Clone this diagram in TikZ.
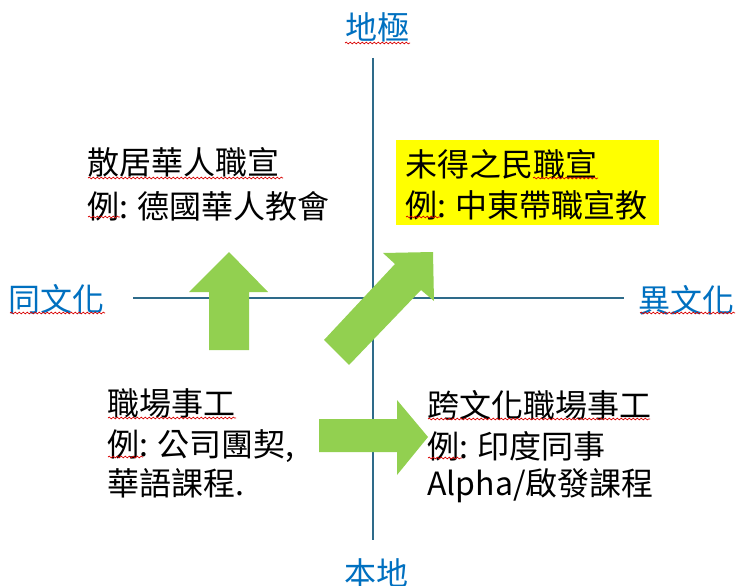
\documentclass[tikz,border=0pt]{standalone}
\usepackage{fontspec}
\setmainfont{Noto Sans CJK TC}
\usetikzlibrary{decorations.pathmorphing}
\definecolor{axisc}{HTML}{2E6B8A}
\definecolor{lblblue}{HTML}{0070C0}
\definecolor{arrgreen}{HTML}{92D050}
\definecolor{hilite}{HTML}{FFFF00}
\tikzset{
  axisline/.style={draw=axisc, line width=2.2pt},
  bigarrow/.style={fill=arrgreen, draw=none},
  txt/.style={anchor=base west, inner sep=0pt, font=\fontsize{32}{38}\selectfont, text=black},
  axlbl/.style={inner sep=0pt, font=\fontsize{32}{38}\selectfont, text=lblblue},
  squiggle/.style={draw=red!85!black, line width=0.7pt, decorate, decoration={snake, amplitude=0.9pt, segment length=4pt}}
}
\begin{document}
\begin{tikzpicture}[x=1pt, y=-1pt]
\useasboundingbox (0,0) rectangle (737,586);
\fill[white] (0,0) rectangle (737,586);
% axes
\coordinate (vtop) at (373,58);
\coordinate (vbot) at (373,540);
\coordinate (hl) at (133,298);
\coordinate (hr) at (624,298);
\draw[axisline] (vtop) -- (vbot);
\draw[axisline] (hl) -- (hr);
% highlight box
\fill[hilite] (396,140) rectangle (659,225);
% arrows
\fill[bigarrow] (209,350) -- (209,292) -- (189,292) -- (229,252) -- (268,292) -- (249,292) -- (249,350) -- cycle;
\fill[bigarrow] (324,340) -- (395,264) -- (383,253) -- (433,252) -- (434,301) -- (421,290) -- (349,365) -- cycle;
\fill[bigarrow] (319,419) -- (397,419) -- (397,400) -- (428,437) -- (397,475) -- (397,452) -- (319,452) -- cycle;
% axis labels
\node[axlbl, anchor=base] (top) at (377,40) {地極};
\node[axlbl, anchor=base] (bot) at (376,585) {本地};
\node[axlbl, anchor=base west] (left) at (8,311) {同文化};
\node[axlbl, anchor=base west] (right) at (638,312) {異文化};
% quadrant texts
\node[txt] (ul1) at (87,174) {散居華人職宣};
\node[txt] (ul2) at (87,218) {例: 德國華人教會};
\node[txt] (ur1) at (405,176) {未得之民職宣};
\node[txt] (ur2) at (405,217) {例: 中東帶職宣教};
\node[txt] (ll1) at (107,415) {職場事工};
\node[txt] (ll2) at (107,456) {例: 公司團契,};
\node[txt] (ll3) at (107,495) {華語課程.};
\node[txt] (lr1) at (427,417) {跨文化職場事工};
\node[txt] (lr2) at (427,458) {例: 印度同事};
\node[txt] (lr3) at (427,495) {Alpha/啟發課程};
% spell-check squiggles
\draw[squiggle] (345,43) -- (410,43);
\draw[squiggle] (10,313) -- (105,313);
\draw[squiggle] (640,313) -- (735,313);
\draw[squiggle] (88,178) -- (283,178);
\draw[squiggle] (88,217) -- (120,217);
\draw[squiggle] (533,178) -- (598,178);
\draw[squiggle] (406,217) -- (440,217);
\draw[squiggle] (108,418) -- (236,418);
\draw[squiggle] (108,457) -- (143,457);
\draw[squiggle] (428,419) -- (650,419);
\draw[squiggle] (428,458) -- (462,458);
\end{tikzpicture}
\end{document}
